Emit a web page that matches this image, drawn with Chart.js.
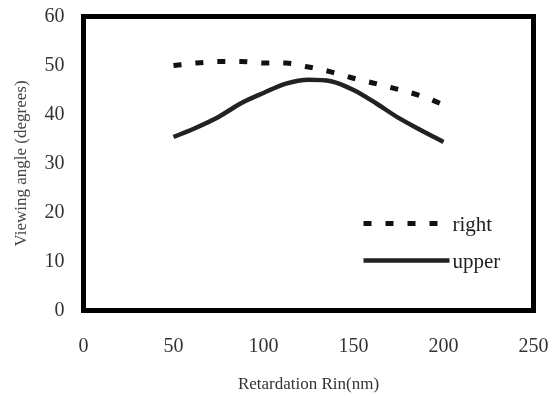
<!DOCTYPE html>
<html>
<head>
<meta charset="utf-8">
<script src="https://cdn.jsdelivr.net/npm/chart.js@4.4.0/dist/chart.umd.min.js"></script>
<style>
  html, body { margin: 0; padding: 0; background: #fff; }
  #wrap { width: 558px; height: 396px; }
</style>
</head>
<body>
<div id="wrap"><canvas id="graph" width="558" height="396"></canvas></div>
<script>
// retardation Rin (nm) and viewing angles
const retardation = [50, 62.5, 75, 87.5, 100, 112.5, 125, 137.5, 150, 162.5, 175, 187.5, 200];
const rightAngle  = [50.0, 50.5, 50.8, 50.8, 50.5, 50.5, 49.7, 48.7, 47.4, 46.3, 45.1, 43.8, 42.0];
const upperAngle  = [35.4, 37.3, 39.5, 42.3, 44.4, 46.3, 47.1, 46.8, 45.0, 42.3, 39.3, 36.8, 34.4];
const xRange = [0, 250, 50];
const yRange = [0, 60, 10];
const seriesNames = ["right", "upper"];

const serif = "'Liberation Serif', 'DejaVu Serif', serif";
const tickFont = { family: serif, size: 20 };
const titleFont = { family: serif, size: 17 };

// box around plot + legend inside it
const boxAndLegend = {
  id: 'boxAndLegend',
  afterDraw(chart) {
    const { ctx, chartArea: a } = chart;
    ctx.save();
    ctx.strokeStyle = '#000';
    ctx.lineWidth = 5;
    ctx.strokeRect(a.left, a.top, a.right - a.left, a.bottom - a.top);

    const x0 = a.left + 280, x1 = a.left + 366;
    const rows = [a.top + 207, a.top + 244];
    chart.data.datasets.forEach((ds, i) => {
      ctx.beginPath();
      ctx.setLineDash(ds.borderDash || []);
      ctx.lineWidth = ds.borderWidth;
      ctx.strokeStyle = ds.borderColor;
      ctx.moveTo(x0, rows[i]);
      ctx.lineTo(x1, rows[i]);
      ctx.stroke();
      ctx.setLineDash([]);
      ctx.fillStyle = '#222';
      ctx.font = "21px " + serif;
      ctx.textBaseline = 'middle';
      ctx.fillText(ds.label, x1 + 3, rows[i] + 2);
    });
    ctx.restore();
  }
};

new Chart(document.getElementById('graph').getContext('2d'), {
  type: 'line',
  data: {
    datasets: [
      {
        label: seriesNames[0],
        data: retardation.map((x, i) => ({ x, y: rightAngle[i] })),
        borderColor: '#111',
        borderWidth: 5,
        borderDash: [8, 14],
        pointRadius: 0,
        tension: 0.4,
        cubicInterpolationMode: 'monotone'
      },
      {
        label: seriesNames[1],
        data: retardation.map((x, i) => ({ x, y: upperAngle[i] })),
        borderColor: '#222',
        borderWidth: 4.5,
        pointRadius: 0,
        tension: 0.4,
        cubicInterpolationMode: 'monotone'
      }
    ]
  },
  options: {
    responsive: false,
    animation: false,
    layout: { padding: { top: 16.5, right: 24.5, left: 0, bottom: 0 } },
    plugins: { legend: { display: false }, tooltip: { enabled: false } },
    scales: {
      x: {
        type: 'linear',
        min: xRange[0], max: xRange[1],
        ticks: { stepSize: xRange[2], color: '#333', font: tickFont, padding: 16 },
        grid: { display: false },
        border: { display: false },
        title: { display: true, text: 'Retardation Rin(nm)', color: '#333', font: titleFont, padding: { top: 2, bottom: 1 } },
        afterFit: s => { s.height = 85.5; s.paddingLeft = 0; s.paddingRight = 0; }
      },
      y: {
        min: yRange[0], max: yRange[1],
        ticks: { stepSize: yRange[2], color: '#333', font: tickFont, padding: 11 },
        grid: { display: false },
        border: { display: false },
        title: { display: true, text: 'Viewing angle (degrees)', color: '#444', font: titleFont, padding: 11 },
        afterFit: s => { s.width = 83.5; s.paddingTop = 0; s.paddingBottom = 0; }
      }
    }
  },
  plugins: [boxAndLegend]
});
</script>
</body>
</html>
